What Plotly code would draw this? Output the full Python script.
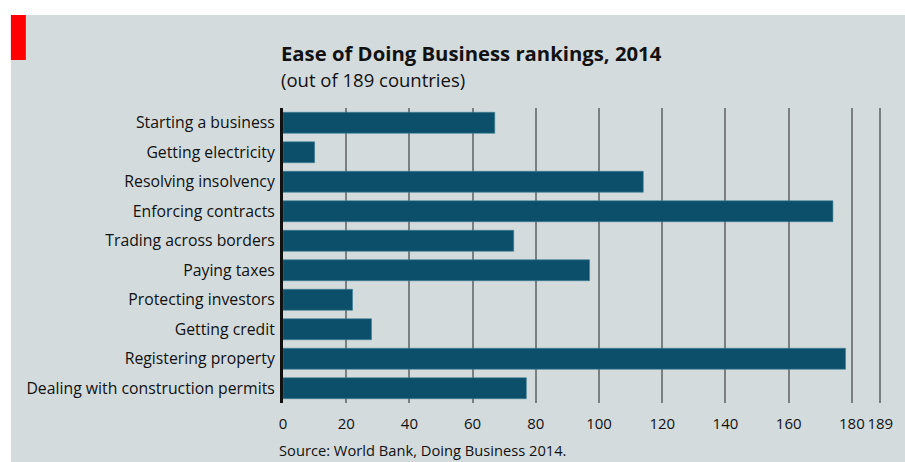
import plotly.graph_objects as go

# Ease of Doing Business 2014 rankings (out of 189 countries)
categories = [
    "Starting a business",
    "Getting electricity",
    "Resolving insolvency",
    "Enforcing contracts",
    "Trading across borders",
    "Paying taxes",
    "Protecting investors",
    "Getting credit",
    "Registering property",
    "Dealing with construction permits",
]
rankings = [67, 10, 114, 174, 73, 97, 22, 28, 178, 77]
tick_values = [0, 20, 40, 60, 80, 100, 120, 140, 160, 180, 189]
tick_labels = [str(v) for v in tick_values]

W, H = 905, 462
L, R, T, B = 283, 17, 108, 59
PW, PH = W - L - R, H - T - B

BG = "#d3dbdd"
BAR = "#0b4f6b"
FONT = "Open Sans"


def px(x):
    return (x - L) / PW


def py(y):
    return 1 - (y - T) / PH


fig = go.Figure()
fig.add_trace(go.Bar(
    x=rankings,
    y=categories,
    orientation="h",
    marker=dict(color=BAR, line=dict(color="#3f7f96", width=0.6)),
    hoverinfo="x+y",
))

shapes = [
    # panel background (white strip on top and left)
    dict(type="rect", xref="paper", yref="paper", layer="below",
         x0=px(10), x1=px(W + 5), y0=py(H + 5), y1=py(15),
         fillcolor=BG, line=dict(width=0)),
    # red tag
    dict(type="rect", xref="paper", yref="paper",
         x0=px(10), x1=px(25), y0=py(60), y1=py(15),
         fillcolor="#ff0000", line=dict(width=0)),
]

annotations = [
    dict(text="<b>Ease of Doing Business rankings, 2014</b>",
         xref="paper", yref="paper", x=px(279), y=py(53),
         xanchor="left", yanchor="middle", showarrow=False,
         font=dict(family=FONT, size=20.3, color="#111111")),
    dict(text="(out of 189 countries)",
         xref="paper", yref="paper", x=px(279), y=py(79),
         xanchor="left", yanchor="middle", showarrow=False,
         font=dict(family=FONT, size=18.5, color="#111111")),
    dict(text="Source: World Bank, Doing Business 2014.",
         xref="paper", yref="paper", x=px(277), y=py(450),
         xanchor="left", yanchor="middle", showarrow=False,
         font=dict(family=FONT, size=14.7, color="#111111")),
]

fig.update_layout(
    width=W, height=H,
    margin=dict(l=L, r=R, t=T, b=B, pad=0),
    paper_bgcolor="white",
    plot_bgcolor=BG,
    showlegend=False,
    bargap=0.29,
    shapes=shapes,
    annotations=annotations,
    font=dict(family=FONT, color="#111111"),
)

fig.update_xaxes(
    range=[0, 190.8],
    tickvals=tick_values,
    ticktext=tick_labels,
    tickangle=0,
    showgrid=True,
    gridcolor="#7a7f82",
    gridwidth=1.5,
    zeroline=False,
    showline=False,
    ticks="",
    ticklabelstandoff=10,
    tickfont=dict(family=FONT, size=15, color="#111111"),
    fixedrange=True,
)

fig.update_yaxes(
    categoryorder="array",
    categoryarray=categories[::-1],
    showgrid=False,
    zeroline=False,
    showline=True,
    linecolor="#111111",
    linewidth=3,
    ticks="",
    ticklabelstandoff=2,
    tickfont=dict(family=FONT, size=15.8, color="#111111"),
    fixedrange=True,
)

fig.write_html("out.html")
